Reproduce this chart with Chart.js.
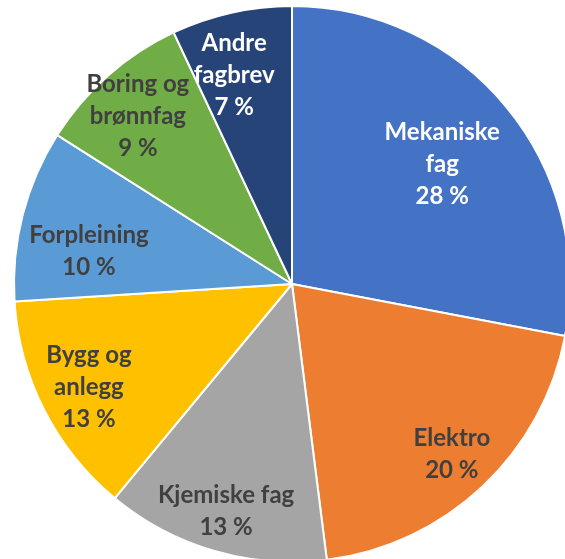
<!DOCTYPE html>
<html>
<head>
<meta charset="utf-8">
<script src="https://cdn.jsdelivr.net/npm/chart.js@4"></script>
<style>
  html, body { margin: 0; padding: 0; background: #fff; overflow: hidden; }
  #wrap { position: absolute; left: 0; top: 0; width: 584px; height: 568px; }
</style>
</head>
<body>
<div id="wrap"><canvas id="pieChart"></canvas></div>
<script>
// Kategorier og andeler (prosent)
let categories = [['Mekaniske', 'fag'], ['Elektro'], ['Kjemiske fag'], ['Bygg og', 'anlegg'], ['Forpleining'], ['Boring og', 'brønnfag'], ['Andre', 'fagbrev']];
let shares = [28, 20, 13, 13, 10, 9, 7];
let sliceColors = ['#4472C4', '#ED7D31', '#A5A5A5', '#FFC000', '#5B9BD5', '#70AD47', '#264478'];
let labelColors = ['#ffffff', '#404040', '#404040', '#404040', '#404040', '#404040', '#ffffff'];

// Etiketter inne i sektorene, tegnet fra buenes vinkler
let sliceLabels = {
  id: 'sliceLabels',
  afterDatasetsDraw(chart, args, opts) {
    let ctx = chart.ctx;
    let meta = chart.getDatasetMeta(0);
    ctx.save();
    ctx.font = 'bold 24px Lato';
    ctx.textAlign = 'center';
    ctx.textBaseline = 'middle';
    meta.data.forEach((arc, i) => {
      let mid = (arc.startAngle + arc.endAngle) / 2 + opts.turn[i];
      let r = arc.outerRadius * opts.radius[i];
      let x = arc.x + Math.cos(mid) * r;
      let y = arc.y + Math.sin(mid) * r;
      let lines = categories[i].concat([shares[i] + ' %']);
      let top = y - (lines.length - 1) * opts.lineHeight / 2;
      ctx.fillStyle = labelColors[i];
      lines.forEach((t, k) => ctx.fillText(t, x, top + k * opts.lineHeight));
    });
    ctx.restore();
  }
};

let config = {
  type: 'pie',
  data: {
    labels: categories.map(c => c.join(' ')),
    datasets: [{ data: shares, backgroundColor: sliceColors, borderColor: '#ffffff', borderWidth: 2 }]
  },
  options: {
    responsive: true,
    maintainAspectRatio: false,
    animation: false,
    radius: 278,
    layout: { padding: 0 },
    plugins: {
      legend: { display: false },
      tooltip: { enabled: false },
      sliceLabels: {
        radius: [0.69, 0.84, 0.85, 0.82, 0.74, 0.82, 0.78],
        turn: [0.02, 0, 0, 0, -0.09, -0.02, -0.05],
        lineHeight: 32
      }
    }
  },
  plugins: [sliceLabels]
};

let ctx = document.getElementById('pieChart').getContext('2d');
new Chart(ctx, config);
</script>
</body>
</html>
